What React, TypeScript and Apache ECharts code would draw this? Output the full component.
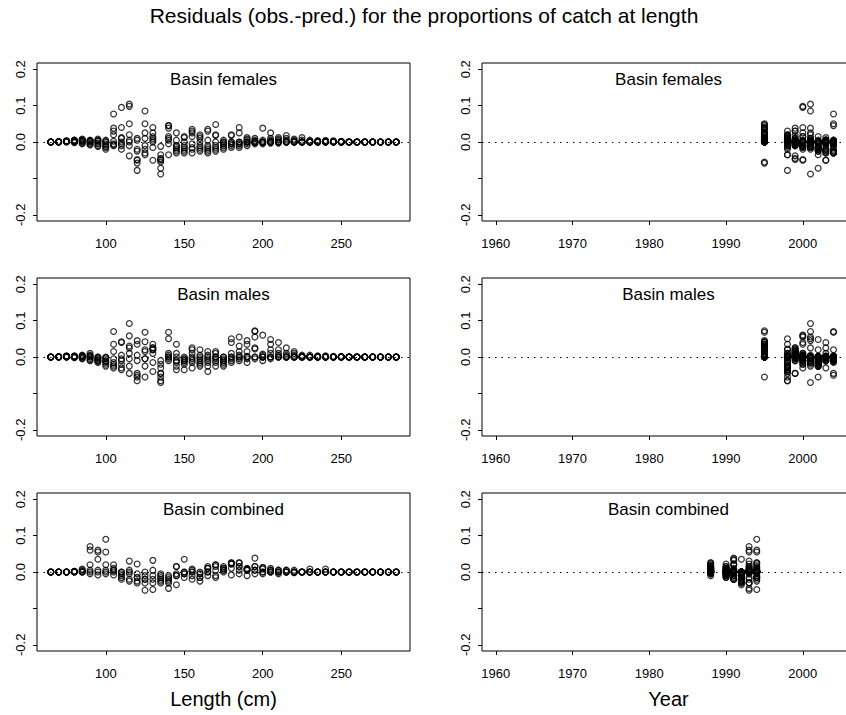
import React, { useEffect, useRef } from "react";
import * as echarts from "echarts";

// ---- data ----
const lengthBins = [65, 70, 75, 80, 85, 90, 95, 100, 105, 110, 115, 120, 125, 130, 135, 140, 145, 150, 155, 160, 165, 170, 175, 180, 185, 190, 195, 200, 205, 210, 215, 220, 225, 230, 235, 240, 245, 250, 255, 260, 265, 270, 275, 280, 285];
const basinYears = [1995, 1998, 1999, 2000, 2001, 2002, 2003, 2004];
const combinedYears = [1988, 1990, 1991, 1992, 1993, 1994];
const lengthTicks = [100, 150, 200, 250];
const yearTicks = [1960, 1970, 1980, 1990, 2000];
const residualTicks = [-0.2, -0.1, 0, 0.1, 0.2];
const residualLabels = [-0.2, 0, 0.1, 0.2];
const panelNames = ["Basin females", "Basin males", "Basin combined"];
const mainTitle = "Residuals (obs.-pred.) for the proportions of catch at length";
const xNames = ["Length (cm)", "Year"];

// residuals (obs - pred) in thousandths: one row per length bin, one column per year
const femalesMilli = [
  [0, 0, 0, 0, 0, 0, 0, 0],
  [0, 1, 0, 0, 1, 0, 0, 0],
  [2, 3, 1, 2, 0, 1, 3, 2],
  [3, 5, 1, 4, -2, 2, 5, 0],
  [5, 8, -3, 3, -5, 2, 6, 0],
  [4, -6, 2, -8, 5, 0, -3, 3],
  [8, -10, 3, -12, 5, -5, -3, 2],
  [5, -20, -8, -15, 0, -12, -5, 2],
  [38, 30, -8, -10, 20, -5, 2, 77],
  [40, 10, -10, 95, 0, -20, 12, -5],
  [50, 20, -38, 98, 104, 0, -10, 5],
  [-58, -78, -48, -50, 10, -25, 5, -20],
  [25, 10, -10, -20, 85, -35, -30, 50],
  [40, -15, 10, 15, 25, 0, -50, 5],
  [-55, -35, -45, -48, -88, -72, -50, -12],
  [45, -35, 38, 15, 10, 5, -5, 45],
  [25, -10, 5, -15, -20, -25, -30, -10],
  [15, 12, 0, -10, -15, -20, -25, -30],
  [35, -5, 30, 25, -15, 15, -20, -30],
  [20, 15, 10, 0, -10, -15, -20, -25],
  [35, -10, 30, 5, -15, -20, -25, -30],
  [48, 20, 18, 0, -10, -15, -20, -25],
  [5, 0, -5, -10, -15, -20, 0, -5],
  [20, 18, 0, -5, -10, -15, 0, -5],
  [25, 0, -5, 40, -10, -15, 0, -5],
  [12, 8, 5, 0, -5, -10, 0, 0],
  [10, 5, 0, -2, -5, 0, 2, 0],
  [0, 5, 0, -2, 38, -5, 0, 0],
  [25, 10, 5, 0, -3, 0, 2, 0],
  [12, 8, 5, 0, -3, 0, 0, 0],
  [18, 10, 5, 0, 0, 0, 0, 0],
  [8, 5, 2, 0, 0, 0, 0, 0],
  [12, 5, 0, 0, 0, 0, 0, 0],
  [5, 2, 0, 0, 0, 0, 0, 0],
  [4, 2, 0, 0, 0, 0, 0, 0],
  [4, 3, 1, 0, 0, 0, 0, 0],
  [3, 2, 0, 0, 0, 0, 0, 0],
  [2, 1, 0, 0, 0, 0, 0, 0],
  [0, 0, 0, 0, 0, 0, 0, 0],
  [0, 0, 0, 0, 0, 0, 0, 0],
  [0, 0, 0, 0, 0, 0, 0, 0],
  [0, 0, 0, 0, 0, 0, 0, 0],
  [0, 0, 0, 0, 0, 0, 0, 0],
  [0, 0, 0, 0, 0, 0, 0, 0],
  [0, 0, 0, 0, 0, 0, 0, 0],
];

const malesMilli = [
  [0, 0, 0, 0, 0, 0, 0, 0],
  [0, 0, 1, 0, 0, 0, 0, 0],
  [1, 2, 0, 3, 0, 1, 0, 2],
  [2, 0, 3, -2, 1, 0, 2, 0],
  [5, -5, 3, 0, -3, 2, 0, 3],
  [10, -10, 5, -5, 0, -8, 3, 0],
  [0, -15, -5, -10, -3, -12, 0, -8],
  [0, -25, -10, -20, -5, -15, -2, -12],
  [35, -30, 15, -20, 70, -25, -5, -15],
  [42, -35, 5, 40, -10, -20, -30, -5],
  [30, -45, 25, 58, 92, -25, 10, -5],
  [45, -65, -45, 35, 5, -55, -10, -50],
  [42, -55, 15, -5, -25, 20, -5, 68],
  [35, -40, 20, 10, 25, -15, 25, 20],
  [-55, -65, -45, -30, -70, -20, -10, -45],
  [68, 50, 10, 5, 0, -5, -10, 0],
  [35, -35, 10, -10, -15, -25, 0, -10],
  [0, -35, -5, -10, -15, -20, -10, -5],
  [25, -30, 20, 10, -5, -15, 0, -10],
  [20, -25, 5, -10, -15, -20, 0, -5],
  [15, -40, 5, -5, -15, -25, 0, -10],
  [15, -25, 10, 0, -10, -15, 0, -5],
  [0, -25, -10, -15, -20, -10, 0, -5],
  [40, -15, 10, 0, 50, -10, 0, -5],
  [30, -10, 15, 5, 55, -5, 0, 0],
  [35, -15, 15, 2, 45, -5, 0, 0],
  [72, 22, 25, 55, 0, -5, 0, 70],
  [8, 5, 0, 60, -10, 0, 0, 0],
  [10, 35, 20, 0, 0, 48, -5, 0],
  [0, 20, 10, 5, 0, 0, 40, 0],
  [25, 10, 5, 0, 0, 0, 0, 0],
  [15, 10, 5, 0, 0, 0, 0, 0],
  [5, 2, 0, 0, 0, 0, 0, 0],
  [5, 0, 0, 0, 0, 0, 0, 0],
  [3, 0, 0, 0, 0, 0, 0, 0],
  [3, 0, 0, 0, 0, 0, 0, 0],
  [2, 0, 0, 0, 0, 0, 0, 0],
  [2, 0, 0, 0, 0, 0, 0, 0],
  [0, 0, 0, 0, 0, 0, 0, 0],
  [0, 0, 0, 0, 0, 0, 0, 0],
  [0, 0, 0, 0, 0, 0, 0, 0],
  [0, 0, 0, 0, 0, 0, 0, 0],
  [0, 0, 0, 0, 0, 0, 0, 0],
  [0, 0, 0, 0, 0, 0, 0, 0],
  [0, 0, 0, 0, 0, 0, 0, 0],
];

const combinedMilli = [
  [0, 0, 0, 0, 0, 0],
  [0, 0, 0, 0, 0, 0],
  [0, 0, 0, 0, 0, 0],
  [2, 0, 1, 0, 2, 0],
  [8, 2, 0, 0, 5, 0],
  [5, 0, 20, -5, 70, 60],
  [5, -8, 0, 35, 60, 55],
  [5, 0, 20, -5, 55, 90],
  [20, 10, 5, -8, 0, 5],
  [0, -5, -10, -15, -20, 0],
  [5, -5, -20, -25, 30, 0],
  [-5, -15, 22, -25, -30, -15],
  [0, -10, -20, -30, -50, -20],
  [5, -10, 32, -20, -30, -48],
  [-5, -10, -20, -25, -30, -15],
  [-10, -15, -20, -30, -45, -25],
  [15, -5, -10, -35, 15, -10],
  [0, -5, 35, -15, 0, -5],
  [8, 0, -10, -20, 0, 5],
  [0, -5, -15, -25, -5, -15],
  [15, 10, 0, -10, 10, 0],
  [20, 15, 5, -10, -15, 20],
  [15, 10, 5, 0, 10, 5],
  [25, 22, 10, -8, 22, 25],
  [25, 15, 5, -5, 15, 25],
  [10, 8, 5, -10, 5, 8],
  [15, 5, 38, -5, 5, 15],
  [12, 8, 0, -5, 0, 12],
  [10, 5, 0, 0, 5, 0],
  [5, 0, -5, 0, 0, 5],
  [5, 0, 0, 0, 5, 0],
  [5, 0, -2, 0, 0, 0],
  [0, 0, 0, 0, 0, 0],
  [8, 0, 0, 0, 0, 0],
  [0, 0, 0, 0, 0, 0],
  [8, 0, 0, 0, 0, 0],
  [0, 0, 0, 0, 0, 0],
  [0, 0, 0, 0, 0, 0],
  [0, 0, 0, 0, 0, 0],
  [0, 0, 0, 0, 0, 0],
  [0, 0, 0, 0, 0, 0],
  [0, 0, 0, 0, 0, 0],
  [0, 0, 0, 0, 0, 0],
  [0, 0, 0, 0, 0, 0],
  [0, 0, 0, 0, 0, 0],
];

// ---- layout / style ----
const FONT = "'Liberation Sans', Arial, Helvetica, sans-serif";
const CHART_W = 870;
const CHART_H = 715;
const gridLeft = [37, 482];
const gridTop = [63, 278, 493];
const gridW = 373;
const gridH = 158;
const xRange = [
  [56.2, 293.8],
  [1958.2, 2006.8],
];
const yLim = 0.217;

function buildOption() {
  const groups = [femalesMilli, malesMilli, combinedMilli];
  const groupYears = [basinYears, basinYears, combinedYears];
  const grid: any[] = [];
  const xAxis: any[] = [];
  const yAxis: any[] = [];
  const series: any[] = [];
  const graphic: any[] = [
    {
      type: "text",
      x: 424,
      y: 15,
      style: {
        text: mainTitle,
        fill: "#000",
        font: `21px ${FONT}`,
        textAlign: "center",
        textVerticalAlign: "middle",
      },
    },
  ];

  groups.forEach((mat, r) => {
    const years = groupYears[r];
    const byLength: number[][] = [];
    const byYear: number[][] = [];
    mat.forEach((row, li) =>
      row.forEach((v, yi) => {
        byLength.push([lengthBins[li], v / 1000]);
        byYear.push([years[yi], v / 1000]);
      })
    );
    [0, 1].forEach((c) => {
      const gi = r * 2 + c;
      const ticks = c === 0 ? lengthTicks : yearTicks;
      grid.push({
        left: gridLeft[c],
        top: gridTop[r],
        width: gridW,
        height: gridH,
        show: true,
        borderColor: "#000",
        borderWidth: 1,
        backgroundColor: "transparent",
        containLabel: false,
      });
      xAxis.push({
        type: "value",
        gridIndex: gi,
        position: "bottom",
        min: xRange[c][0],
        max: xRange[c][1],
        axisLine: { show: false, onZero: false },
        axisTick: {
          show: true,
          length: 4,
          customValues: ticks,
          lineStyle: { color: "#000", width: 1 },
        },
        axisLabel: {
          show: true,
          customValues: ticks,
          color: "#000",
          fontSize: 13,
          fontFamily: FONT,
          margin: 16,
          formatter: (v: number) => String(v),
        },
        splitLine: { show: false },
        name: r === 2 ? xNames[c] : "",
        nameLocation: "middle",
        nameGap: 38,
        nameTextStyle: { fontSize: 20, color: "#000", fontFamily: FONT },
      });
      yAxis.push({
        type: "value",
        gridIndex: gi,
        position: "left",
        min: -yLim,
        max: yLim,
        axisLine: { show: false, onZero: false },
        axisTick: {
          show: true,
          length: 4,
          customValues: residualTicks,
          lineStyle: { color: "#000", width: 1 },
        },
        axisLabel: {
          show: true,
          customValues: residualLabels,
          rotate: 90,
          margin: 10,
          color: "#000",
          fontSize: 13,
          fontFamily: FONT,
          formatter: (v: number) => v.toFixed(1),
        },
        splitLine: { show: false },
      });
      series.push({
        type: "scatter",
        xAxisIndex: gi,
        yAxisIndex: gi,
        data: c === 0 ? byLength : byYear,
        symbol: "circle",
        symbolSize: 5.8,
        silent: true,
        itemStyle: { color: "transparent", borderColor: "#000", borderWidth: 1.25 },
        emphasis: { disabled: true },
        markLine: {
          silent: true,
          symbol: ["none", "none"],
          label: { show: false },
          lineStyle: { type: [1.5, 5], color: "#000", width: 1 },
          emphasis: { disabled: true },
          data: [{ yAxis: 0 }],
        },
      });
      graphic.push({
        type: "text",
        x: gridLeft[c] + gridW / 2,
        y: gridTop[r] + 16,
        style: {
          text: panelNames[r],
          fill: "#000",
          font: `17px ${FONT}`,
          textAlign: "center",
          textVerticalAlign: "middle",
        },
      });
    });
  });

  return {
    animation: false,
    backgroundColor: "#fff",
    textStyle: { fontFamily: FONT },
    grid,
    xAxis,
    yAxis,
    series,
    graphic,
  };
}

export default function App() {
  const ref = useRef<HTMLDivElement>(null);
  useEffect(() => {
    if (!ref.current) return;
    const chart = echarts.init(ref.current, undefined, { renderer: "svg" });
    chart.setOption(buildOption() as any);
    return () => chart.dispose();
  }, []);
  return (
    <div
      style={{
        position: "fixed",
        left: 0,
        top: 0,
        width: 846,
        height: 715,
        overflow: "hidden",
        background: "#fff",
      }}
    >
      <div ref={ref} style={{ width: CHART_W, height: CHART_H }} />
    </div>
  );
}
